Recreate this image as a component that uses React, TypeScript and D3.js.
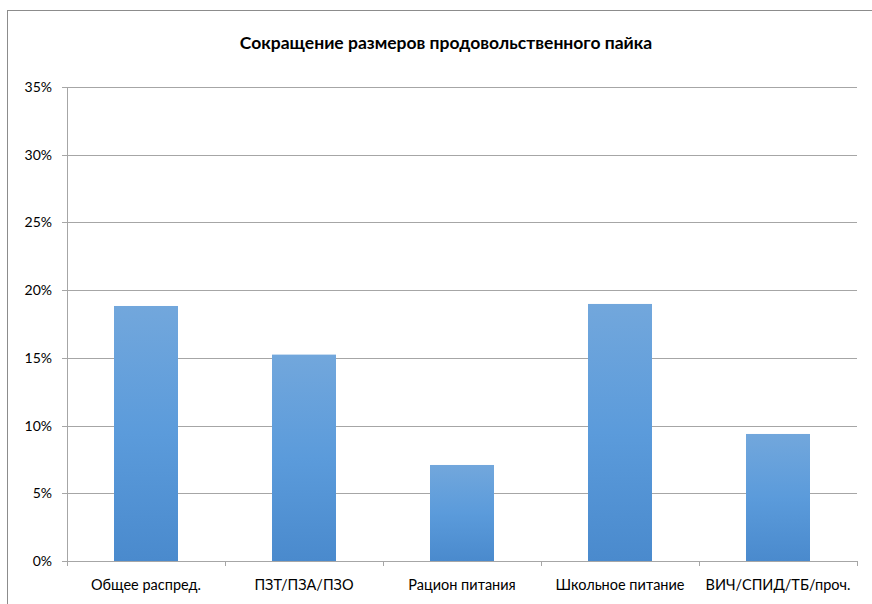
import React from 'react';
import * as d3 from 'd3';

const title = 'Сокращение размеров продовольственного пайка';
const categories = ['Общее распред.', 'ПЗТ/ПЗА/ПЗО', 'Рацион питания', 'Школьное питание', 'ВИЧ/СПИД/ТБ/проч.'];
const values = [18.83, 15.24, 7.09, 18.98, 9.38];
const yTicks = [0, 5, 10, 15, 20, 25, 30, 35];

const W = 872;
const H = 604;
const margin = { top: 87, right: 15, bottom: 43, left: 67 };
const font = 'Lato, "Open Sans", sans-serif';

export default function App() {
  const x = d3.scaleBand<string>()
    .domain(categories)
    .range([margin.left, W - margin.right])
    .paddingInner(0.595)
    .paddingOuter(0.2975);
  // band boundaries for ticks
  const step = (W - margin.right - margin.left) / categories.length;
  const y = d3.scaleLinear().domain([0, 35]).range([H - margin.bottom, margin.top]);
  const x0 = margin.left;
  const x1 = W - margin.right;
  const yBase = y(0);

  return (
    <svg width={W} height={H} style={{ position: 'absolute', left: 0, top: 0, background: '#fff' }}>
      <defs>
        <linearGradient id="barGrad" x1="0" y1="0" x2="0" y2="1">
          <stop offset="0%" stopColor="#72a7dc" />
          <stop offset="50%" stopColor="#5b9bdb" />
          <stop offset="100%" stopColor="#4a8acd" />
        </linearGradient>
      </defs>
      <rect x={7.5} y={10.5} width={W} height={H} fill="#fff" stroke="#8c8c8c" strokeWidth={1} />
      <text x={446} y={49} textAnchor="middle" fontFamily={font} fontWeight="bold" fontSize={17.5} fill="#000">
        {title}
      </text>
      {yTicks.map(t => (
        <g key={t}>
          <line x1={x0 - 5} x2={x1} y1={Math.round(y(t)) + 0.5} y2={Math.round(y(t)) + 0.5} stroke="#a6a6a6" strokeWidth={1} />
          <text x={52} y={y(t) + 5} textAnchor="end" fontFamily={font} fontSize={14} fill="#000">
            {t}%
          </text>
        </g>
      ))}
      {categories.map((c, i) => (
        <rect
          key={c}
          x={x(c)}
          y={y(values[i])}
          width={x.bandwidth()}
          height={yBase - y(values[i])}
          fill="url(#barGrad)"
        />
      ))}
      <line x1={x0 + 0.5} x2={x0 + 0.5} y1={margin.top} y2={yBase + 0.5} stroke="#a6a6a6" strokeWidth={1} />
      {d3.range(categories.length + 1).map(i => (
        <line
          key={i}
          x1={Math.round(x0 + i * step) + 0.5}
          x2={Math.round(x0 + i * step) + 0.5}
          y1={yBase}
          y2={yBase + 5}
          stroke="#a6a6a6"
          strokeWidth={1}
        />
      ))}
      {categories.map(c => (
        <text key={c} x={(x(c) ?? 0) + x.bandwidth() / 2} y={590} textAnchor="middle" fontFamily={font} fontSize={14.5} fill="#000">
          {c}
        </text>
      ))}
    </svg>
  );
}
